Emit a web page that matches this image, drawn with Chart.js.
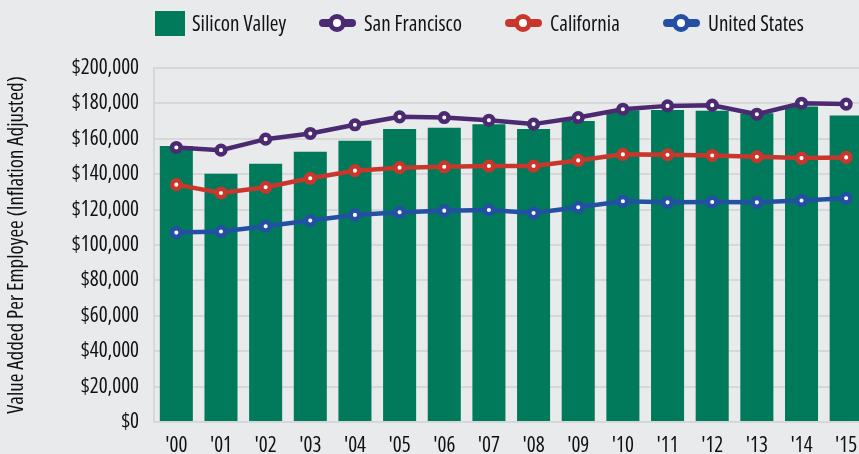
<!DOCTYPE html>
<html>
<head>
<meta charset="utf-8">
<script src="https://cdn.jsdelivr.net/npm/chart.js@4/dist/chart.umd.min.js"></script>
<style>
html,body{margin:0;padding:0;background:#e9eaec;overflow:hidden;}
#wrap{position:relative;width:880px;height:454px;}
#legend{position:absolute;left:0;top:10px;height:26px;width:880px;
  font-family:"Open Sans",sans-serif;font-stretch:condensed;font-size:21px;color:#111;}
.item{position:absolute;top:0;height:26px;display:flex;align-items:center;white-space:nowrap;}
.box{width:30px;height:25px;margin-right:7px;}
.mk{position:relative;width:37px;height:18px;margin-right:8px;}
.mk .ln{position:absolute;left:0;right:0;top:5px;height:8px;border-radius:4px;}
.mk .dot{position:absolute;left:9px;top:0;width:8px;height:8px;border-radius:50%;background:#fff;border:5px solid;}
</style>
</head>
<body>
<div id="wrap">
  <div id="legend"></div>
  <canvas id="c" width="880" height="454"></canvas>
</div>
<script>
const YEARS=["'00","'01","'02","'03","'04","'05","'06","'07","'08","'09","'10","'11","'12","'13","'14","'15"];
const SILICON_VALLEY=[156000,140300,145900,152700,158900,165600,166200,168200,165600,170100,176200,176300,175800,174500,178200,173100];
const SAN_FRANCISCO=[155100,153600,159800,163000,167900,172400,172000,170500,168300,172000,176700,178600,179000,173900,180100,179600];
const CALIFORNIA=[134100,129400,132600,137700,142000,143700,144200,144600,144600,147800,151200,151000,150600,149900,149100,149500];
const UNITED_STATES=[107000,107600,110600,113800,117000,118500,119400,119800,118100,121300,124700,124100,124300,124100,125100,126400];
const Y_TICKS=[0,20000,40000,60000,80000,100000,120000,140000,160000,180000,200000];

// Open Sans squeezed via font-stretch; chart.js passes "weight" straight into the font string
const FONT='"Open Sans",sans-serif';
const NARROW='condensed';
const GREEN='#007a5a', PURPLE='#4b2a72', RED='#c9372c', BLUE='#2350a3', GRID='#d6d7d9';
const LEGEND_LEFT=[155,319,505,663];

function lineSet(label,data,color){
  return {type:'line',label,data,borderColor:color,backgroundColor:'#fff',
    borderWidth:4.5,pointRadius:4.3,pointBorderWidth:4.5,pointBackgroundColor:'#fff',
    pointBorderColor:color,tension:0,order:1};
}

const datasets=[
  {type:'bar',label:'Silicon Valley',data:SILICON_VALLEY,backgroundColor:GREEN,
    barPercentage:0.74,categoryPercentage:1,order:2},
  lineSet('San Francisco',SAN_FRANCISCO,PURPLE),
  lineSet('California',CALIFORNIA,RED),
  lineSet('United States',UNITED_STATES,BLUE)
];

// legend in html so it can sit where the chart wants it
const legend=document.getElementById('legend');
datasets.forEach((ds,i)=>{
  const it=document.createElement('div');
  it.className='item';
  it.style.left=LEGEND_LEFT[i]+'px';
  if(ds.type==='bar'){
    it.innerHTML=`<div class="box" style="background:${ds.backgroundColor}"></div>`;
  }else{
    it.innerHTML=`<div class="mk"><div class="ln" style="background:${ds.borderColor}"></div><div class="dot" style="border-color:${ds.borderColor}"></div></div>`;
  }
  const t=document.createElement('span');
  t.textContent=ds.label;
  it.appendChild(t);
  legend.appendChild(it);
});

new Chart(document.getElementById('c').getContext('2d'),{
  data:{labels:YEARS,datasets},
  options:{
    responsive:false,
    animation:false,
    layout:{padding:{top:68,right:11.5,left:0,bottom:0}},
    plugins:{legend:{display:false},tooltip:{enabled:false}},
    scales:{
      x:{
        grid:{display:false},
        border:{display:false},
        ticks:{color:'#111',font:{family:FONT,size:21,weight:NARROW},padding:3,maxRotation:0},
        afterFit(s){s.height=32;}
      },
      y:{
        min:0,max:200000,
        afterBuildTicks(s){s.ticks=Y_TICKS.map(v=>({value:v}));},
        grid:{color:GRID,lineWidth:2,drawTicks:false},
        border:{display:true,color:GRID,width:2},
        ticks:{color:'#111',font:{family:FONT,size:21,weight:NARROW},padding:15,
          callback:v=>'$'+v.toLocaleString('en-US')},
        title:{display:true,text:'Value Added Per Employee (Inflation Adjusted)',
          color:'#111',font:{family:FONT,size:21,weight:NARROW},padding:{top:4,bottom:0}},
        afterFit(s){s.width=154;}
      }
    }
  }
});
</script>
</body>
</html>
